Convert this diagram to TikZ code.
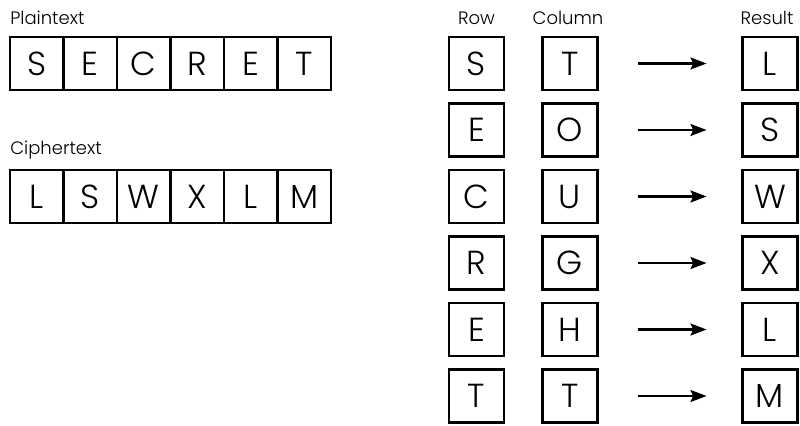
\documentclass[tikz,border=0pt]{standalone}
\usepackage{fontspec}
\setmainfont{Poppins Light}
\usetikzlibrary{arrows.meta, positioning}

\begin{document}
\begin{tikzpicture}[x=0.75pt, y=-0.75pt, node distance=0pt]
        \tikzset{cell/.style={draw, line width=1.8pt, outer sep=0pt, inner sep=0pt,
                     minimum width=40.1pt, minimum height=39.75pt, font=\fontsize{25}{25}\selectfont},
                 wcell/.style={cell, minimum width=41.25pt},
                 heading/.style={inner sep=0pt, anchor=base, font=\fontsize{13.5}{13.5}\selectfont}}
        \useasboundingbox (0,0) rectangle (800,425);

        % plaintext
        \node[heading, anchor=base west] (plainlbl) at (10,24) {Plaintext};
        \node[cell] (p1) at (36.75,63.5) {S};
        \node[cell, right=of p1] (p2) {E};
        \node[cell, right=of p2] (p3) {C};
        \node[cell, right=of p3] (p4) {R};
        \node[cell, right=of p4] (p5) {E};
        \node[cell, right=of p5] (p6) {T};

        % ciphertext
        \node[heading, anchor=base west] (cipherlbl) at (10,154) {Ciphertext};
        \node[cell] (c1) at (36.75,196.5) {L};
        \node[cell, right=of c1] (c2) {S};
        \node[cell, right=of c2] (c3) {W};
        \node[cell, right=of c3] (c4) {X};
        \node[cell, right=of c4] (c5) {L};
        \node[cell, right=of c5] (c6) {M};

        % lookup table
        \node[heading] (rowlbl) at (476.5,24) {Row};
        \node[heading] (collbl) at (568,24) {Column};
        \node[heading] (reslbl) at (767,24) {Result};
        \foreach \r/\c/\o [count=\i] in {S/T/L, E/O/S, C/U/W, R/G/X, E/H/L, T/T/M} {
            \node[wcell] (row\i) at (476.5,{63.5+66.5*(\i-1)}) {\r};
            \node[wcell] (col\i) at (570,{63.5+66.5*(\i-1)}) {\c};
            \node[wcell] (res\i) at (770,{63.5+66.5*(\i-1)}) {\o};
            \draw[-{Stealth[length=12pt, width=9pt, inset=2pt]}, line width=1.6pt, shorten <=30pt, shorten >=27pt] (col\i) -- (res\i);
        }
    \end{tikzpicture}
\end{document}
